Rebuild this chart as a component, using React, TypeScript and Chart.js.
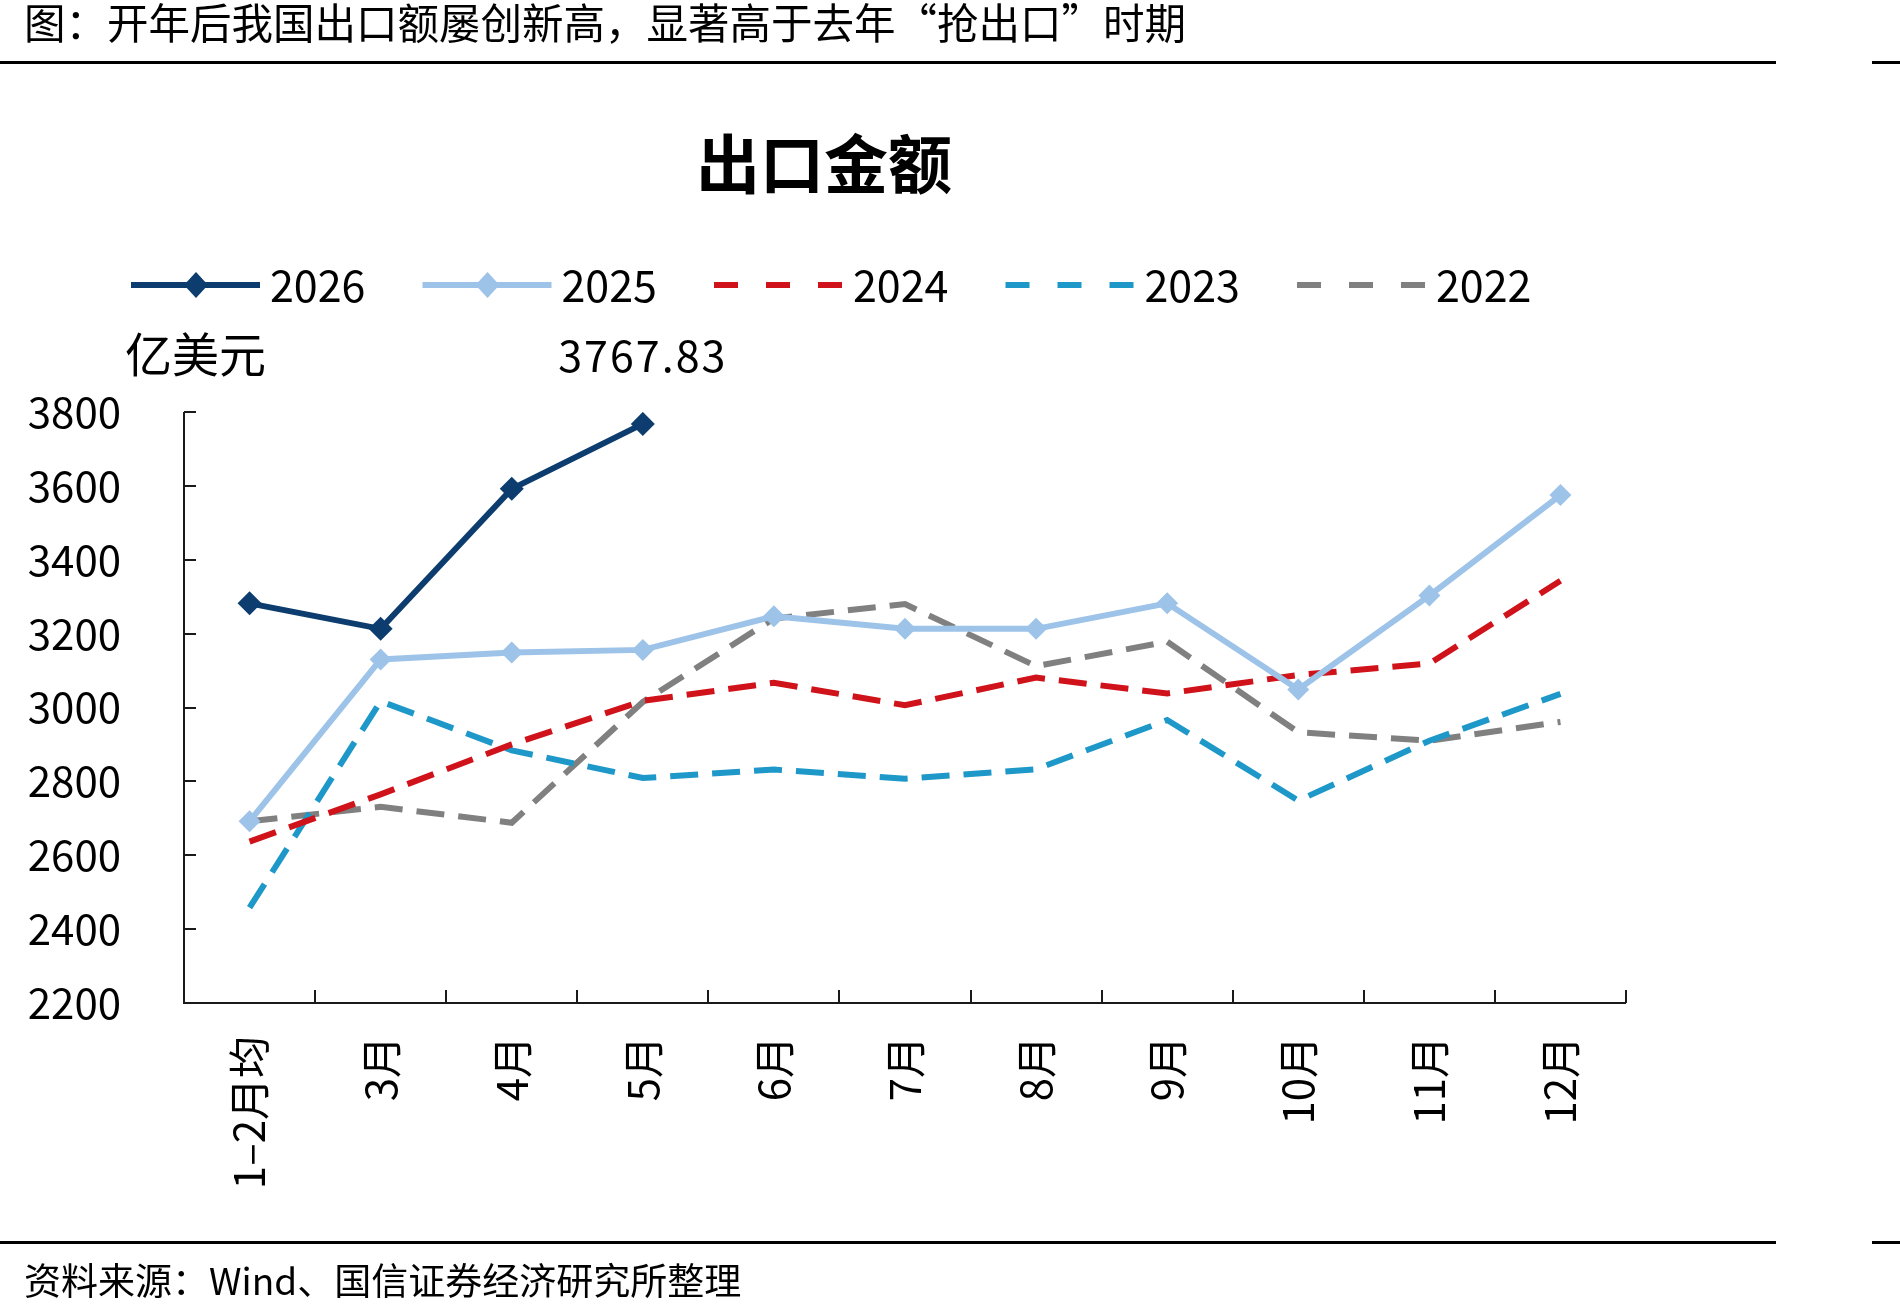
import React, { useEffect, useRef } from 'react';
import { Chart, registerables } from 'chart.js';

Chart.register(...registerables);

// ---------------- data ----------------
const categories = ['1–2月均', '3月', '4月', '5月', '6月', '7月', '8月', '9月', '10月', '11月', '12月'];
const seriesNames = ['2026', '2025', '2024', '2023', '2022'];
const values2026 = [3282, 3213, 3592, 3767.83, null, null, null, null, null, null, null];
const values2025 = [2692, 3130, 3149, 3156, 3247, 3213, 3213, 3282, 3049, 3303, 3575];
const values2024 = [2637, 2765, 2900, 3018, 3067, 3006, 3081, 3038, 3088, 3119, 3343];
const values2023 = [2458, 3017, 2884, 2809, 2832, 2807, 2833, 2966, 2748, 2910, 3037];
const values2022 = [2692, 2731, 2688, 3015, 3241, 3280, 3112, 3178, 2933, 2910, 2961];
const yMin = 2200;
const yMax = 3800;
const yStep = 200;

const headerText = '图：开年后我国出口额屡创新高，显著高于去年“抢出口”时期';
const chartTitle = '出口金额';
const unitText = '亿美元';
const sourceText = '资料来源：Wind、国信证券经济研究所整理';
const labelledSeries = 0; // 2026
const labelledIndex = 3; // 5月

const FONT = "'Noto Sans CJK SC', 'Noto Sans', sans-serif";

const colors = ['#0C3D6E', '#9DC3E9', '#D0121B', '#1E98C8', '#808080'];

const decorPlugin = {
  id: 'decor',
  beforeDatasetsDraw(chart: any) {
    const ctx = chart.ctx as CanvasRenderingContext2D;
    const xs = chart.scales.x;
    const ys = chart.scales.y;
    const top = ys.getPixelForValue(yMax);
    const bottom = ys.getPixelForValue(yMin);
    const left = xs.left;
    const right = xs.right;
    ctx.save();
    ctx.strokeStyle = '#1a1a1a';
    ctx.lineWidth = 2;
    ctx.beginPath();
    ctx.moveTo(left, top);
    ctx.lineTo(left, bottom);
    ctx.lineTo(right, bottom);
    ctx.stroke();
    // y ticks (inside)
    for (let v = yMin; v <= yMax; v += yStep) {
      const y = Math.round(ys.getPixelForValue(v));
      ctx.beginPath();
      ctx.moveTo(left, y);
      ctx.lineTo(left + 12, y);
      ctx.stroke();
    }
    // x ticks at category boundaries (inside)
    const n = categories.length;
    for (let i = 1; i <= n; i++) {
      const x = Math.round(left + (i * (right - left)) / n);
      ctx.beginPath();
      ctx.moveTo(x, bottom);
      ctx.lineTo(x, bottom - 13);
      ctx.stroke();
    }
    ctx.restore();
  },
  afterDraw(chart: any) {
    const ctx = chart.ctx as CanvasRenderingContext2D;
    ctx.save();
    ctx.fillStyle = '#000';
    ctx.textBaseline = 'middle';

    // header & footer
    ctx.font = `41.5px ${FONT}`;
    ctx.textAlign = 'left';
    ctx.fillText(headerText, 24, 23);
    ctx.fillRect(0, 61, 1776, 3);
    ctx.fillRect(1872, 61, 28, 3);
    ctx.fillRect(0, 1241, 1776, 3);
    ctx.fillRect(1872, 1241, 28, 3);
    ctx.font = `37px ${FONT}`;
    ctx.fillText(sourceText, 24, 1281);

    // chart title
    ctx.font = `bold 64px ${FONT}`;
    ctx.textAlign = 'center';
    ctx.fillText(chartTitle, 824, 164);

    // unit
    ctx.font = `47px ${FONT}`;
    ctx.textAlign = 'left';
    ctx.fillText(unitText, 125, 354);

    // legend
    const ds = chart.data.datasets;
    ds.forEach((d: any, i: number) => {
      const x0 = 131 + i * 291.5;
      const y = 285;
      ctx.save();
      ctx.strokeStyle = d.borderColor;
      ctx.lineWidth = 6;
      ctx.setLineDash(d.borderDash && d.borderDash.length ? [24, 28] : []);
      ctx.beginPath();
      ctx.moveTo(x0, y);
      ctx.lineTo(x0 + 129, y);
      ctx.stroke();
      ctx.restore();
      if (d.pointRadius > 0) {
        const cx = x0 + 65;
        const r = 13;
        ctx.fillStyle = d.borderColor;
        ctx.beginPath();
        ctx.moveTo(cx - r + 1, y);
        ctx.lineTo(cx, y - r);
        ctx.lineTo(cx + r - 1, y);
        ctx.lineTo(cx, y + r);
        ctx.closePath();
        ctx.fill();
      }
      ctx.fillStyle = '#000';
      ctx.font = `43px ${FONT}`;
      ctx.textAlign = 'left';
      ctx.fillText(seriesNames[i], x0 + 139, y + 1);
    });

    // data label for latest point
    const meta = chart.getDatasetMeta(labelledSeries);
    const pt = meta.data[labelledIndex];
    if (pt) {
      const v = chart.data.datasets[labelledSeries].data[labelledIndex] as number;
      ctx.font = `43px ${FONT}`;
      (ctx as any).letterSpacing = '2px';
      ctx.textAlign = 'center';
      ctx.fillStyle = '#000';
      ctx.fillText(v.toFixed(2), pt.x, pt.y - 68);
      (ctx as any).letterSpacing = '0px';
    }
    ctx.restore();
  },
};

export default function App() {
  const ref = useRef<HTMLCanvasElement>(null);
  useEffect(() => {
    const canvas = ref.current!;
    const mk = (label: string, data: (number | null)[], color: string, dashed: boolean, radius: number, width: number) => ({
      label,
      data,
      borderColor: color,
      backgroundColor: color,
      borderWidth: width,
      borderDash: dashed ? [28, 14] : [],
      pointStyle: 'rectRot',
      pointRadius: radius,
      pointHoverRadius: radius,
      pointBackgroundColor: color,
      pointBorderColor: color,
      pointBorderWidth: 0,
      tension: 0,
      fill: false,
      spanGaps: false,
    });
    const chart = new Chart(canvas, {
      type: 'line',
      data: {
        labels: categories,
        datasets: [
          mk(seriesNames[0], values2026, colors[0], false, 12, 6),
          mk(seriesNames[1], values2025, colors[1], false, 11, 6),
          mk(seriesNames[2], values2024, colors[2], true, 0, 6),
          mk(seriesNames[3], values2023, colors[3], true, 0, 6),
          mk(seriesNames[4], values2022, colors[4], true, 0, 6),
        ] as any,
      },
      options: {
        responsive: false,
        animation: false,
        devicePixelRatio: 1,
        layout: { padding: { left: 0, right: 274, top: 412, bottom: 0 } },
        plugins: {
          legend: { display: false },
          tooltip: { enabled: false },
          title: { display: false },
        },
        scales: {
          x: {
            type: 'category',
            offset: true,
            grid: { display: false, drawTicks: false },
            border: { display: false },
            ticks: {
              minRotation: 90,
              maxRotation: 90,
              autoSkip: false,
              padding: 33,
              color: '#000',
              font: { family: FONT, size: 42 },
            },
            afterFit: (s: any) => {
              s.height = 312;
            },
          },
          y: {
            min: yMin,
            max: yMax,
            grid: { display: false, drawTicks: false },
            border: { display: false },
            ticks: {
              stepSize: yStep,
              padding: 63,
              color: '#000',
              font: { family: FONT, size: 42 },
              callback: (v: any) => String(v),
            },
            afterFit: (s: any) => {
              s.width = 184;
            },
          },
        },
      } as any,
      plugins: [decorPlugin],
    });
    return () => chart.destroy();
  }, []);
  return (
    <div style={{ position: 'absolute', left: 0, top: 0, width: 1900, height: 1315, background: '#fff' }}>
      <canvas ref={ref} width={1900} height={1315} style={{ display: 'block' }} />
    </div>
  );
}
